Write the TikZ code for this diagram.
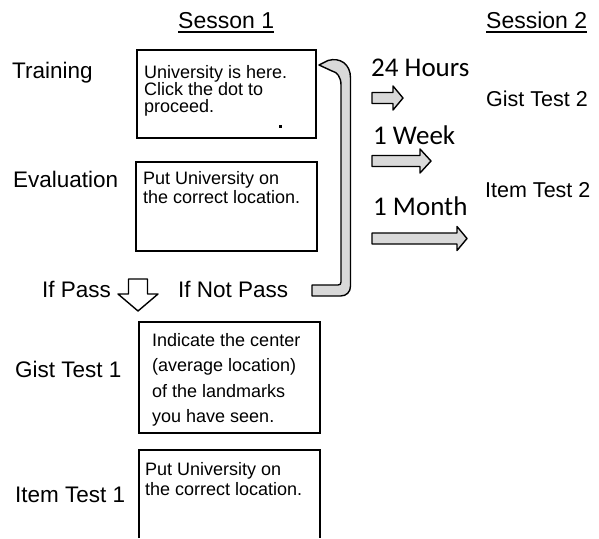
\documentclass[tikz,border=0pt]{standalone}
\usepackage{fontspec}
\setmainfont{Liberation Sans}
\newfontfamily\timefont{Carlito}
\usetikzlibrary{positioning}
\tikzset{
  head/.style={font=\fontsize{23}{27}\selectfont,inner sep=0pt,anchor=base west},
  lbl/.style={font=\fontsize{22.5}{27}\selectfont,inner sep=0pt,anchor=base west},
  lbltwo/.style={font=\fontsize{21.5}{26}\selectfont,inner sep=0pt,anchor=base west},
  timelbl/.style={font=\timefont\fontsize{27}{30}\selectfont,inner sep=0pt,anchor=base west},
  boxtxt/.style={align=left,inner sep=0pt,anchor=north west},
  panel/.style={draw,line width=1.5pt},
  blk/.style={draw,line width=1.4pt,fill=gray!30,line join=round},
}
\begin{document}
\begin{tikzpicture}[x=1pt,y=-1pt]
  \useasboundingbox (0,0) rectangle (599,538);
  % headers
  \node[head] (sesA) at (178,28) {Sesson 1};
  \node[head] (sesB) at (486,28) {Session 2};
  \foreach \s in {sesA,sesB}
    \draw[line width=1.3pt] ([yshift=-4pt]\s.base west) -- ([yshift=-4pt]\s.base east);
  % left labels
  \node[lbl] (train) at (12,78) {Training};
  \node[lbl] (eval) at (13,187) {Evaluation};
  \node[lbl] (pass) at (42,297) {If Pass};
  \node[lbl] (nopass) at (178,297) {If Not Pass};
  \node[lbl] (gistA) at (15,377) {Gist Test 1};
  \node[lbl] (itemA) at (15,502) {Item Test 1};
  % session 2
  \node[lbltwo] (gistB) at (486,106) {Gist Test 2};
  \node[lbltwo] (itemB) at (485,197) {Item Test 2};
  \node[timelbl] (day) at (371,76) {24 Hours};
  \node[timelbl] (week) at (373,144) {1 Week};
  \node[timelbl] (month) at (373,215) {1 Month};
  % boxes
  \draw[panel] (137,50) rectangle (316,138);
  \fill (278.5,124.5) rectangle +(3,3);
  \node[boxtxt,font=\fontsize{18}{17}\selectfont] (trainTxt) at (144,65)
    {University is here.\\Click the dot to\\proceed.};
  \draw[panel] (136,162) rectangle (317,251);
  \node[boxtxt,font=\fontsize{18}{19}\selectfont] (evalTxt) at (143,171)
    {Put University on\\the correct location.};
  \draw[panel] (139,322) rectangle (320,433);
  \node[boxtxt,font=\fontsize{18}{25.5}\selectfont] (gistTxt) at (152,333)
    {Indicate the center\\(average location)\\of the landmarks\\you have seen.};
  \draw[panel] (139,538) -- (139,450) -- (320,450) -- (320,538);
  \node[boxtxt,font=\fontsize{18}{20}\selectfont] (itemTxt) at (145,462)
    {Put University on\\the correct location.};
  % arrows
  \draw[blk,fill=white] (128.5,279) -- (147.5,279) -- (147.5,294) -- (158,294) -- (138,311)
    -- (118,294) -- (128.5,294) -- cycle;
  \draw[blk] (312,285) -- (338,285) .. controls (340,285) and (341,284) .. (341,282)
    -- (341,85) .. controls (341,77) and (337,72) .. (332,71) -- (319,65)
    -- (328,60.5) .. controls (340,57) and (350.5,64) .. (350.5,78)
    -- (350.5,286) .. controls (350.5,292) and (346.5,296) .. (340.5,296) -- (312,296) -- cycle;
  \foreach \yc/\xs/\xt in {98/393/403, 161/420/431, 238.5/457/467}
    \draw[blk] (372,\yc-5.5) -- (\xs,\yc-5.5) -- (\xs,\yc-12) -- (\xt,\yc)
      -- (\xs,\yc+12) -- (\xs,\yc+5.5) -- (372,\yc+5.5) -- cycle;
\end{tikzpicture}
\end{document}
